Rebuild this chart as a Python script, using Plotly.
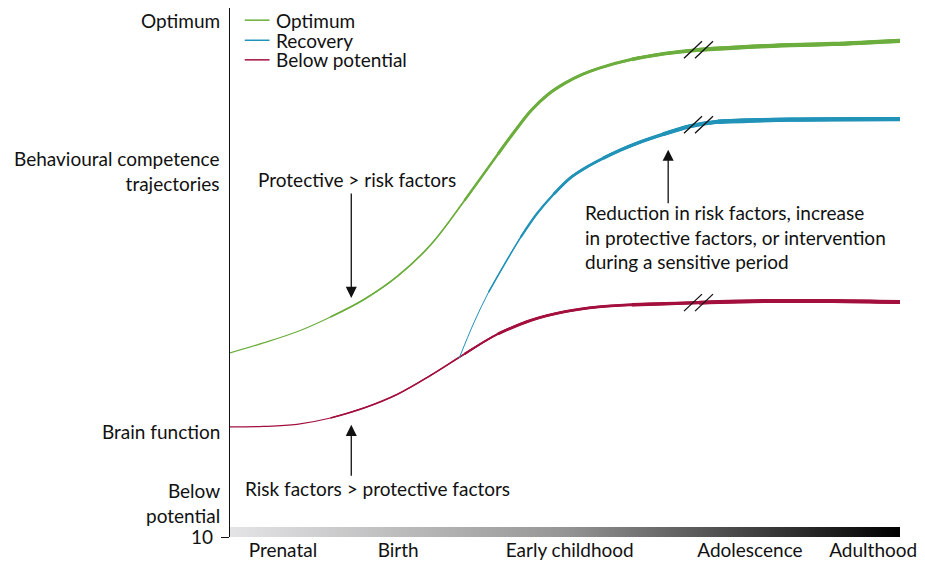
import numpy as np
import plotly.graph_objects as go

# age axis (arbitrary 0-100 scale), competence scale 0-100 (bottom labelled "10")
age_ticks = [7.9, 25.1, 50.7, 77.6, 96.0]
age_labels = ['Prenatal', 'Birth', 'Early childhood', 'Adolescence', 'Adulthood']

optimum_x = [0, 5, 10, 15, 20, 25, 30, 35, 40, 42.5, 45, 47.5, 50, 52.5, 55, 60, 65, 70, 80, 90, 100]
optimum_y = [34.8, 36.7, 38.8, 41.6, 44.9, 49.3, 55.3, 63.6, 72.4, 76.7, 80.7, 83.7, 85.8, 87.4,
             88.6, 90.3, 91.4, 92.1, 92.8, 93.2, 93.8]

recovery_x = [34.2, 36.4, 38.6, 40.9, 43.4, 45.8, 48.3, 50.8, 53.2, 55.7, 58.2, 60.9,
              64.6, 68.8, 72.8, 83.7, 100]
recovery_y = [33.8, 40.5, 46.3, 51.4, 56.7, 61.1, 64.8, 67.9, 69.9, 71.6, 73.1, 74.5,
              76.1, 77.7, 78.5, 78.9, 79.0]

below_x = [0, 5, 10, 15, 20, 25, 30, 35, 40, 45, 50, 55, 60, 65, 70, 80, 90, 100]
below_y = [20.8, 20.9, 21.3, 22.5, 24.4, 27.0, 30.6, 34.6, 38.4, 41.0, 42.6, 43.5,
           43.9, 44.1, 44.3, 44.6, 44.6, 44.4]

GREEN = '#6cae3e'
BLUE = '#2193b8'
RED = '#a3103e'
FONT = 'Lato'
FS = 19
BREAK_X = 70.0

fig = go.Figure()

# gradient bar along the age axis
fig.add_trace(go.Scatter(
    x=[0, 100, 100, 0, 0], y=[0, 0, 1.9, 1.9, 0], mode='lines', fill='toself',
    line=dict(width=0),
    fillgradient=dict(type='horizontal', colorscale=[[0, '#e4e4e6'], [0.5, '#959595'], [1, '#000000']]),
    showlegend=False, hoverinfo='skip'))


def add_tapered(xs, ys, color, steps, name):
    # overlay sub-curves so the line gets thicker with age
    for start, width in steps:
        fig.add_trace(go.Scatter(x=xs[start:], y=ys[start:], mode='lines', name=name,
                                 line=dict(color=color, width=width, shape='spline', smoothing=1.0),
                                 showlegend=False))


add_tapered(below_x, below_y, RED, [(0, 1.2), (3, 1.6), (7, 2.2), (8, 2.8), (12, 3.4), (14, 4.0)], 'Below potential')
add_tapered(recovery_x, recovery_y, BLUE, [(0, 1.0), (2, 1.6), (4, 2.2), (6, 2.8), (9, 3.4), (12, 4.0), (14, 4.4)], 'Recovery')
add_tapered(optimum_x, optimum_y, GREEN, [(0, 1.2), (3, 1.6), (7, 2.4), (8, 3.0), (15, 3.7), (17, 4.3)], 'Optimum')

shapes = []
# "//" break marks on each trajectory
for xs, ys in [(optimum_x, optimum_y), (recovery_x, recovery_y), (below_x, below_y)]:
    yb = float(np.interp(BREAK_X, xs, ys))
    for off in (-6, 5):
        shapes.append(dict(type='line', xref='x', yref='y', xsizemode='pixel', ysizemode='pixel',
                           xanchor=BREAK_X, yanchor=yb, x0=off - 9, x1=off + 9, y0=-8.5, y1=8.5,
                           line=dict(color='#111111', width=1.3)))

# hand-drawn legend
legend_names = ['Optimum', 'Recovery', 'Below potential']
legend_colors = [GREEN, BLUE, RED]
legend_y = [97.7, 93.9, 90.2]
annotations = []
for nm, col, ly in zip(legend_names, legend_colors, legend_y):
    shapes.append(dict(type='line', xref='x', yref='y', x0=2.2, x1=5.9, y0=ly, y1=ly,
                       line=dict(color=col, width=1.5)))
    annotations.append(dict(x=6.5, y=ly, xref='x', yref='y', text=nm, showarrow=False,
                            xanchor='left', yanchor='middle', font=dict(size=FS)))

# left side labels
for txt, ly in [('Optimum', 97.7), ('Behavioural competence<br>trajectories', 69.1),
                ('Brain function', 20.0), ('Below<br>potential', 6.4)]:
    annotations.append(dict(x=0, y=ly, xref='paper', yref='y', xshift=-8, text=txt,
                            showarrow=False, xanchor='right', yanchor='middle', align='right',
                            font=dict(size=FS)))

# callout texts
annotations += [
    dict(x=18.9, y=67.5, xref='x', yref='y', text='Protective > risk factors', showarrow=False,
         font=dict(size=FS)),
    dict(x=52.7, y=56.7, xref='x', yref='y', xanchor='left', align='left', showarrow=False,
         text='Reduction in risk factors, increase<br>in protective factors, or intervention<br>during a sensitive period',
         font=dict(size=FS)),
    dict(x=1.9, y=9.1, xref='x', yref='y', xanchor='left', text='Risk factors > protective factors',
         showarrow=False, font=dict(size=FS)),
    dict(x=51.3, y=-7.0, xref='x', yref='y', text='Age', showarrow=False, font=dict(size=FS)),
]

# arrows: (head x, head y, tail x, tail y, both ends)
arrows = [(18.1, 45.2, 18.1, 65.2, False), (18.1, 21.2, 18.1, 11.3, False),
          (65.4, 73.2, 65.4, 62.8, False), (-3.7, 22.9, -3.7, 63.7, True)]
for hx, hy, tx, ty, both in arrows:
    annotations.append(dict(x=hx, y=hy, ax=tx, ay=ty, xref='x', yref='y', axref='x', ayref='y',
                            text='', showarrow=True, arrowhead=2, arrowsize=1.7, arrowwidth=1.3,
                            arrowcolor='#111111', arrowside='end+start' if both else 'end',
                            startarrowhead=2, startarrowsize=1.7))

fig.update_layout(
    width=925, height=584,
    margin=dict(l=230, r=22, t=8, b=47),
    paper_bgcolor='white', plot_bgcolor='white',
    font=dict(family=FONT, size=FS, color='#111111'),
    showlegend=False,
    shapes=shapes, annotations=annotations,
    xaxis=dict(range=[0, 100], showgrid=False, zeroline=False, showline=False,
               tickvals=age_ticks, ticktext=age_labels, ticks='', tickfont=dict(size=FS)),
    yaxis=dict(range=[0, 100], showgrid=False, zeroline=False, showline=True,
               linecolor='#111111', linewidth=1.4, tickvals=[0], ticktext=['10'],
               ticks='outside', ticklen=8, tickcolor='#111111', tickfont=dict(size=FS),
               ticklabelstandoff=4),
)

# drop the browser's default body margin so the 925x584 figure fills the window exactly
fig.write_html('out.html', config={'displayModeBar': False},
               post_script="document.body.style.margin='0';")
